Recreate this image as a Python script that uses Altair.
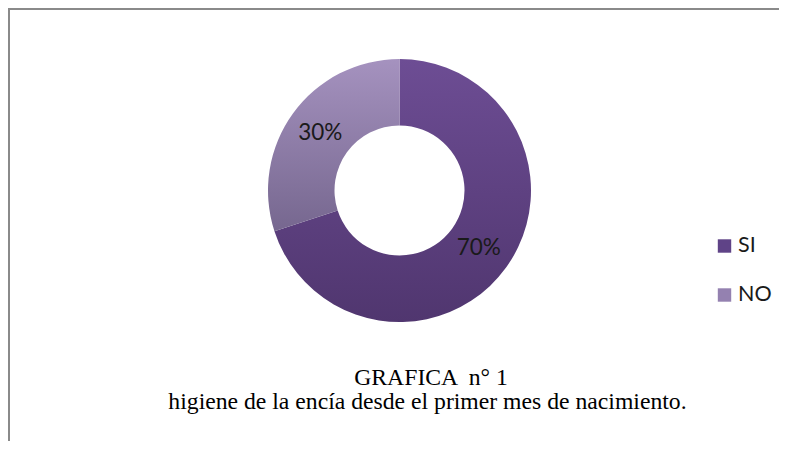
import math
import altair as alt
import pandas as pd

# ---- data ----
categories = ["SI", "NO"]
values = [70, 30]
labels = ["70%", "30%"]
title_lines = ["GRAFICA \u00a0n° 1", "higiene de la encía desde el primer mes de nacimiento."]

legend_colors = ["#5f4387", "#9481b0"]

df = pd.DataFrame({"cat": categories, "value": values, "label": labels, "order": list(range(len(categories)))})

W, H = 771, 433
CX, CY = 391.5, 182.5
R_OUT, R_IN = 131.5, 65

theta_scale = alt.Scale(domain=[0, 1], range=[0, 2 * math.pi])

base = (
    alt.Chart(df)
    .transform_joinaggregate(total="sum(value)")
    .transform_window(cum="sum(value)", sort=[alt.SortField("order")], frame=[None, 0])
    .transform_calculate(
        s="(datum.cum - datum.value) / datum.total",
        e="datum.cum / datum.total",
        m="(datum.cum - datum.value / 2) / datum.total",
    )
)


def grad(top, bottom):
    return alt.Gradient(
        gradient="linear",
        stops=[alt.GradientStop(color=top, offset=0), alt.GradientStop(color=bottom, offset=1)],
        x1=0, x2=0, y1=0, y2=1,
    )


grads = {"SI": grad("#6d4d94", "#50366f"), "NO": grad("#a592bf", "#76678f")}

arc_layers = []
for c in categories:
    arc_layers.append(
        base.transform_filter(alt.datum.cat == c)
        .mark_arc(innerRadius=R_IN, outerRadius=R_OUT, fill=grads[c], strokeWidth=0)
        .encode(
            theta=alt.Theta("s:Q", scale=theta_scale),
            theta2=alt.Theta2("e:Q"),
            x=alt.value(CX),
            y=alt.value(CY),
        )
    )

pct_text = base.mark_text(font="Lato", fontSize=22.5, color="#1a1a1a", align="center", baseline="middle").encode(
    theta=alt.Theta("m:Q", scale=theta_scale),
    radius=alt.value(98),
    x=alt.value(CX),
    y=alt.value(CY),
    text="label:N",
)

leg_df = pd.DataFrame({"cat": categories})
leg_y = alt.Y("cat:N", scale=alt.Scale(type="point", domain=categories, range=[238, 287], padding=0), axis=None)
leg_sq = alt.Chart(leg_df).mark_square(size=180, opacity=1).encode(
    x=alt.value(716.5),
    y=leg_y,
    color=alt.Color("cat:N", scale=alt.Scale(domain=categories, range=legend_colors), legend=None),
)
leg_tx = alt.Chart(leg_df).mark_text(font="Lato", fontSize=21.5, color="#1a1a1a", align="left", baseline="middle").encode(
    x=alt.value(730),
    y=leg_y,
    text="cat:N",
)

t1 = alt.Chart(pd.DataFrame({"t": [title_lines[0]]})).mark_text(
    font="Liberation Serif", fontSize=23.7, color="#000000", align="center", baseline="alphabetic"
).encode(x=alt.value(423), y=alt.value(377), text="t:N")
t2 = alt.Chart(pd.DataFrame({"t": [title_lines[1]]})).mark_text(
    font="Liberation Serif", fontSize=23.7, color="#000000", align="center", baseline="alphabetic"
).encode(x=alt.value(419.5), y=alt.value(401), text="t:N")

one = pd.DataFrame({"a": [0]})
left_border = alt.Chart(one).mark_rect(color="#8a8a8a").encode(
    x=alt.value(0), x2=alt.value(2), y=alt.value(0), y2=alt.value(H)
)
top_border = alt.Chart(one).mark_rect(color="#8a8a8a").encode(
    x=alt.value(0), x2=alt.value(W), y=alt.value(0), y2=alt.value(2)
)

chart = (
    alt.layer(*arc_layers, pct_text, leg_sq, leg_tx, t1, t2, left_border, top_border)
    .properties(width=W, height=H, autosize=alt.AutoSizeParams(type="none"), padding=0, background="white")
    .configure_view(strokeWidth=0, stroke="transparent")
)

chart.save("out.html", embed_options={"renderer": "svg", "actions": False})
